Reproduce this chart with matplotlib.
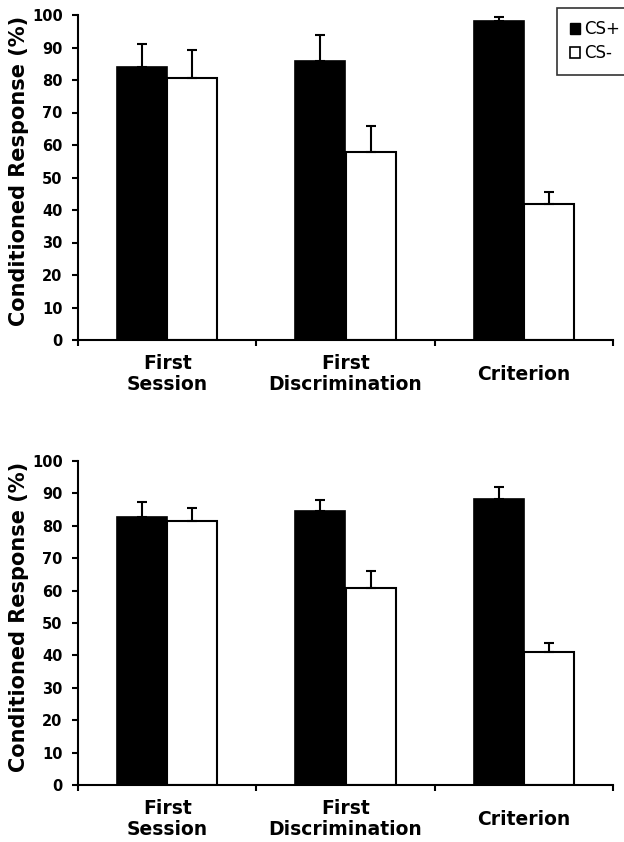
import matplotlib
matplotlib.use("Agg")
import matplotlib.pyplot as plt
import numpy as np
from matplotlib.patches import Patch

plt.rcParams["font.family"] = ["DejaVu Sans"]

CATEGORIES = ["First\nSession", "First\nDiscrimination", "Criterion"]
SERIES = ["CS+", "CS-"]

# top panel
TOP_CS_PLUS = [84, 86, 98.2]
TOP_CS_PLUS_ERR = [7.2, 8, 1.1]
TOP_CS_MINUS = [80.7, 57.7, 42]
TOP_CS_MINUS_ERR = [8.5, 8.2, 3.4]

# bottom panel
BOT_CS_PLUS = [82.7, 84.7, 88.2]
BOT_CS_PLUS_ERR = [4.7, 3.3, 3.8]
BOT_CS_MINUS = [81.5, 60.7, 41]
BOT_CS_MINUS_ERR = [4.1, 5.3, 2.9]

YTICKS = list(range(0, 101, 10))

W = 50 / 178


def draw_panel(ax, plus, plus_err, minus, minus_err):
    x = np.arange(len(CATEGORIES)) + 0.5
    ekw = dict(ecolor="black", elinewidth=1.5, capsize=3.5, capthick=1.5)
    ax.bar(x - W / 2, plus, W, color="black", edgecolor="black", linewidth=1.2,
           yerr=[np.zeros(len(plus)), plus_err], error_kw=ekw)
    ax.bar(x + W / 2, minus, W, color="white", edgecolor="black", linewidth=1.5,
           yerr=[np.zeros(len(minus)), minus_err], error_kw=ekw)

    ax.set_xlim(0, 3)
    ax.set_ylim(0, 100)
    ax.set_yticks(YTICKS)
    ax.set_yticklabels([str(t) for t in YTICKS], fontweight="bold", fontsize=10.5)
    ax.set_xticks([0, 1, 2, 3])
    ax.set_xticklabels([])
    ax.set_xticks(x, minor=True)
    ax.set_xticklabels(CATEGORIES, minor=True, fontweight="bold", fontsize=13.5,
                       va="center", linespacing=1.1)
    ax.tick_params(axis="x", which="minor", length=0, pad=24.5)
    ax.tick_params(axis="x", which="major", length=4, width=1.5, direction="out")
    ax.tick_params(axis="y", length=4, width=1.5, direction="out", pad=7)

    for side in ["top", "right"]:
        ax.spines[side].set_visible(False)
    for side in ["left", "bottom"]:
        ax.spines[side].set_linewidth(1.5)

    ax.set_ylabel("Conditioned Response (%)", fontweight="bold", fontsize=15)
    ax.yaxis.set_label_coords(-0.092, 0.52)


fig = plt.figure(figsize=(6.24, 8.42), dpi=100)
ax1 = fig.add_axes([78 / 624, 1 - 340 / 842, 535 / 624, 325 / 842])
ax2 = fig.add_axes([78 / 624, 1 - 785 / 842, 535 / 624, 324 / 842])

draw_panel(ax1, TOP_CS_PLUS, TOP_CS_PLUS_ERR, TOP_CS_MINUS, TOP_CS_MINUS_ERR)
draw_panel(ax2, BOT_CS_PLUS, BOT_CS_PLUS_ERR, BOT_CS_MINUS, BOT_CS_MINUS_ERR)

handles = [Patch(facecolor="black", edgecolor="black"),
           Patch(facecolor="white", edgecolor="black", linewidth=1.2)]
leg = fig.legend(handles, SERIES, loc="upper left",
                 bbox_to_anchor=(557 / 624, 1 - 8 / 842),
                 fontsize=12, fancybox=False, frameon=True,
                 handlelength=0.6, handleheight=0.6, handletextpad=0.3,
                 borderpad=0.75, labelspacing=0.35, borderaxespad=0)
leg.get_frame().set_edgecolor("black")
leg.get_frame().set_linewidth(1.2)

fig.savefig("out.png", dpi=100)
